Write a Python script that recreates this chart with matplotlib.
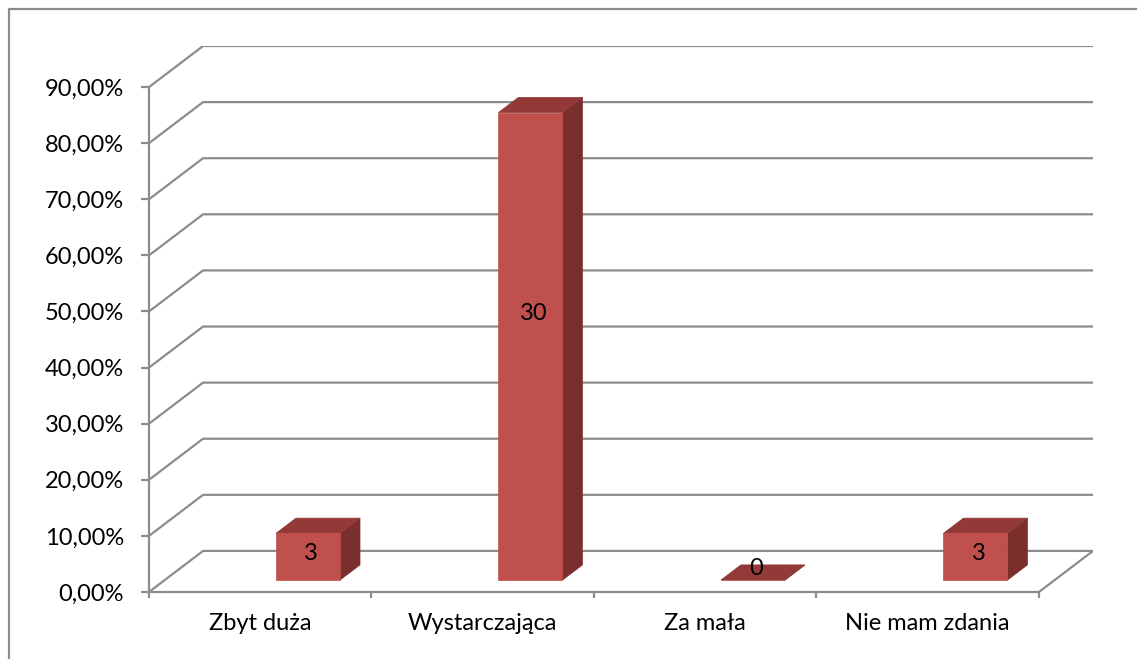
#!/bin/python
import matplotlib
matplotlib.use('Agg')
import matplotlib.pyplot as plt
from matplotlib.lines import Line2D

'''
3d-looking column chart (excel style) with answer counts on the bars
'''

categories = ['Zbyt duża', 'Wystarczająca', 'Za mała', 'Nie mam zdania']
counts = [3, 30, 0, 3]
total = sum(counts)
shares = [c / total * 100 for c in counts]
y_ticks = list(range(0, 100, 10))

GRAY = '#8c8c8c'
FRONT = '#c0504d'
TOP = '#933a38'
SIDE = '#7a2f2d'
FS = 17

# oblique depth of the floor, in data units
DX = 0.243
DY = 7.32
# bar placement inside the depth, and size
D0, D1 = 0.29, 0.66
BAR_W = 0.288

plt.rcParams['font.family'] = ['Lato', 'DejaVu Sans']

W, H = 1137, 659
fig = plt.figure(figsize=(W / 100, H / 100), dpi=100)
ax = fig.add_axes([149 / W, (H - 592) / H, (1093 - 149) / W, (592 - 46) / H])
ax.set_xlim(0, len(categories) + DX)
ax.set_ylim(0, max(y_ticks) + DY)
ax.patch.set_visible(False)


def proj(x, y, d):
  '''oblique projection of a point at depth fraction d'''
  return x + d * DX, y + d * DY


# walls and floor
n = len(categories)
for v in y_ticks:
  xs = [0, DX, n + DX]
  ys = [v, v + DY, v + DY]
  if v == 0:
    xs.append(n)
    ys.append(0)
  ax.plot(xs, ys, color=GRAY, lw=1.6, zorder=1, solid_capstyle='butt')

# bars
for i, v in enumerate(shares):
  x0 = i + 0.5
  x1 = x0 + BAR_W
  front = [proj(x0, 0, D0), proj(x1, 0, D0), proj(x1, v, D0), proj(x0, v, D0)]
  top = [proj(x0, v, D0), proj(x1, v, D0), proj(x1, v, D1), proj(x0, v, D1)]
  side = [proj(x1, 0, D0), proj(x1, 0, D1), proj(x1, v, D1), proj(x1, v, D0)]
  for poly, col in ((side, SIDE), (top, TOP), (front, FRONT)):
    ax.fill([p[0] for p in poly], [p[1] for p in poly], color=col, lw=0.5,
            edgecolor=col, zorder=3)
  lx, ly = proj((x0 + x1) / 2 + 0.015, max(0.57 * v, 2.1), D0)
  ax.text(lx, ly, str(counts[i]), ha='center', va='center', fontsize=FS,
          color='black', zorder=4)

# axes
for s in ('top', 'right'):
  ax.spines[s].set_visible(False)
for s in ('left', 'bottom'):
  ax.spines[s].set_color(GRAY)
  ax.spines[s].set_linewidth(1.6)
ax.spines['left'].set_bounds(0, max(y_ticks))
ax.spines['bottom'].set_bounds(0, n)

ax.set_yticks(y_ticks)
ax.set_yticklabels(['{:.2f}%'.format(v).replace('.', ',') for v in y_ticks])
ax.tick_params(axis='y', length=6, width=1.6, color=GRAY, pad=12,
               labelsize=FS, labelcolor='black')

ax.set_xticks(range(n + 1))
ax.set_xticklabels([])
ax.tick_params(axis='x', which='major', length=4.5, width=1.6, color=GRAY)
ax.set_xticks([i + 0.5 for i in range(n)], minor=True)
ax.set_xticklabels(categories, minor=True)
ax.tick_params(axis='x', which='minor', length=0, pad=15, labelsize=FS,
               labelcolor='black')

# chart area border (only top and left are inside the picture)
fig.add_artist(Line2D([8.5 / W, 8.5 / W, 1.0], [0.0, 1 - 9 / H, 1 - 9 / H],
                      transform=fig.transFigure, color=GRAY, lw=1.6))

fig.savefig('out.png', dpi=100)
